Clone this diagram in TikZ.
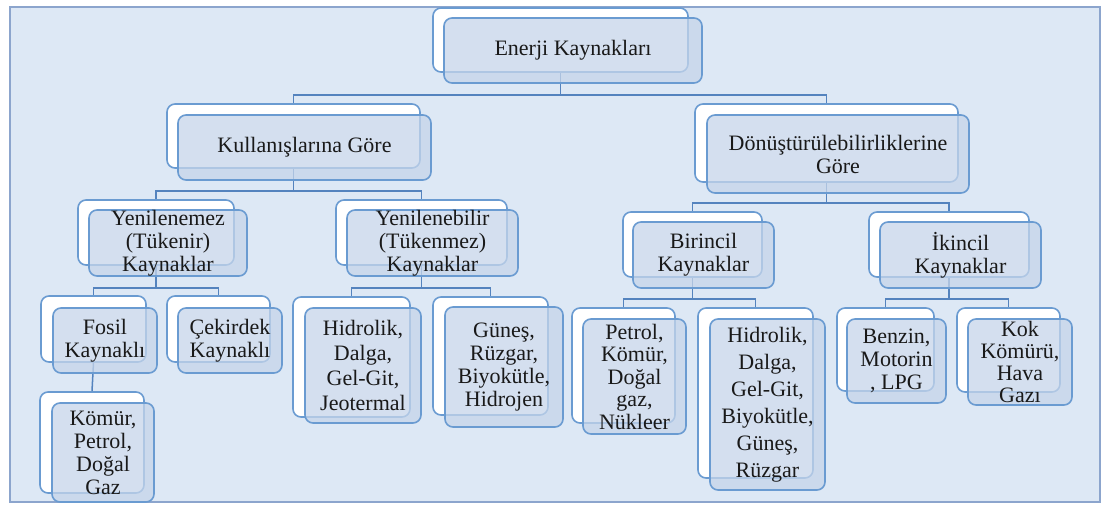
\documentclass[tikz,border=0pt]{standalone}
\usepackage{fontspec}
\setmainfont{Liberation Serif}
\definecolor{zemin}{RGB}{221,232,245}
\definecolor{cerceve}{RGB}{140,165,205}
\definecolor{kenar}{RGB}{106,155,209}
\definecolor{dolgu}{RGB}{198,213,234}
\definecolor{hatrengi}{RGB}{84,131,190}
\begin{document}
\begin{tikzpicture}[x=1pt,y=-1pt]
\tikzstyle{golge}=[rectangle,rounded corners=8pt,fill=white,draw=kenar,line width=1.6pt,inner sep=0pt]
\tikzstyle{kutu}=[rectangle,rounded corners=8pt,fill=dolgu,fill opacity=0.75,text opacity=1,draw=kenar,line width=1.6pt,inner sep=0pt,align=center,font=\fontsize{22}{23}\selectfont,text=black!90]
\tikzstyle{baglanti}=[draw=hatrengi,line width=1.5pt]
\useasboundingbox (0,0) rectangle (1101,504);
\draw[fill=zemin,draw=cerceve,line width=1.5pt] (10,7) rectangle (1100,502);

\node[golge,minimum width=255pt,minimum height=64pt] (kokg) at (560.5,40) {};
\node[golge,minimum width=253pt,minimum height=64pt] (kulg) at (293.5,136) {};
\node[golge,minimum width=263pt,minimum height=78pt] (dong) at (826.5,143) {};
\node[golge,minimum width=156pt,minimum height=65pt] (yneg) at (156,232.5) {};
\node[golge,minimum width=171pt,minimum height=65pt] (ynbg) at (421.5,232.5) {};
\node[golge,minimum width=139pt,minimum height=65pt] (birg) at (692.5,244.5) {};
\node[golge,minimum width=160pt,minimum height=65pt] (ikig) at (949,244.5) {};
\node[golge,minimum width=105pt,minimum height=66pt] (fosg) at (93.5,329) {};
\node[golge,minimum width=103pt,minimum height=66pt] (cekg) at (218.5,329) {};
\node[golge,minimum width=104pt,minimum height=101pt] (komg) at (92,442.5) {};
\node[golge,minimum width=117pt,minimum height=120pt] (hidag) at (351.5,357) {};
\node[golge,minimum width=115pt,minimum height=118pt] (gung) at (490.5,356) {};
\node[golge,minimum width=103pt,minimum height=115pt] (petg) at (623.5,365.5) {};
\node[golge,minimum width=115pt,minimum height=170pt] (hidbg) at (755.5,393) {};
\node[golge,minimum width=97pt,minimum height=83pt] (beng) at (885.5,349.5) {};
\node[golge,minimum width=103pt,minimum height=84pt] (kokkg) at (1008.5,350) {};

\draw[baglanti] (kokg.south) -- ++(0,22) -| (kulg.north);
\draw[baglanti] (kokg.south) -- ++(0,22) -| (dong.north);
\draw[baglanti] (kulg.south) -- ++(0,22) -| (yneg.north);
\draw[baglanti] (kulg.south) -- ++(0,22) -| (ynbg.north);
\draw[baglanti] (dong.south) -- ++(0,20) -| (birg.north);
\draw[baglanti] (dong.south) -- ++(0,20) -| (ikig.north);
\draw[baglanti] (yneg.south) -- ++(0,22) -| (fosg.north);
\draw[baglanti] (yneg.south) -- ++(0,22) -| (cekg.north);
\draw[baglanti] (fosg.south) -- (komg.north);
\draw[baglanti] (ynbg.south) -- ++(0,22) -| (hidag.north);
\draw[baglanti] (ynbg.south) -- ++(0,22) -| (gung.north);
\draw[baglanti] (birg.south) -- ++(0,21) -| (petg.north);
\draw[baglanti] (birg.south) -- ++(0,21) -| (hidbg.north);
\draw[baglanti] (ikig.south) -- ++(0,21) -| (beng.north);
\draw[baglanti] (ikig.south) -- ++(0,21) -| (kokkg.north);

\node[kutu,minimum width=258pt,minimum height=65pt] (kok) at (573,50.5) {Enerji Kaynakları};
\node[kutu,minimum width=253pt,minimum height=65pt] (kul) at (304.5,147.5) {Kullanışlarına Göre};
\node[kutu,minimum width=262pt,minimum height=78pt] (don) at (838,154) {Dönüştürülebilirliklerine\\Göre};
\node[kutu,minimum width=158pt,minimum height=64pt] (yne) at (168,243) {Yenilenemez\\(Tükenir)\\Kaynaklar};
\node[kutu,minimum width=171pt,minimum height=64pt] (ynb) at (432.5,243) {Yenilenebilir\\(Tükenmez)\\Kaynaklar};
\node[kutu,minimum width=141pt,minimum height=66pt] (bir) at (703.5,255) {Birincil\\Kaynaklar};
\node[kutu,minimum width=161pt,minimum height=66pt] (iki) at (960.5,255) {İkincil\\Kaynaklar};
\node[kutu,minimum width=104pt,minimum height=65pt] (fos) at (105,340.5) {Fosil\\Kaynaklı};
\node[kutu,minimum width=104pt,minimum height=65pt] (cek) at (230,340.5) {Çekirdek\\Kaynaklı};
\node[kutu,minimum width=102pt,minimum height=99pt] (kom) at (103,452.5) {Kömür,\\Petrol,\\Doğal\\Gaz};
\node[kutu,minimum width=116pt,minimum height=115pt,font=\fontsize{22}{25}\selectfont] (hida) at (363,365.5) {Hidrolik,\\Dalga,\\Gel-Git,\\Jeotermal};
\node[kutu,minimum width=118pt,minimum height=120pt] (gun) at (504,367) {Güneş,\\Rüzgar,\\Biyokütle,\\Hidrojen};
\node[kutu,minimum width=103pt,minimum height=115pt,font=\fontsize{22}{22.5}\selectfont] (pet) at (634.5,376.5) {Petrol,\\Kömür,\\Doğal\\gaz,\\Nükleer};
\node[kutu,minimum width=115pt,minimum height=171pt,font=\fontsize{22}{27}\selectfont] (hidb) at (767.5,404.5) {Hidrolik,\\Dalga,\\Gel-Git,\\Biyokütle,\\Güneş,\\Rüzgar};
\node[kutu,minimum width=99pt,minimum height=84pt] (ben) at (896.5,361) {Benzin,\\Motorin\\, LPG};
\node[kutu,minimum width=104pt,minimum height=86pt,font=\fontsize{22}{22}\selectfont] (kokk) at (1020,362) {Kok\\Kömürü,\\Hava\\Gazı};
\end{tikzpicture}
\end{document}
